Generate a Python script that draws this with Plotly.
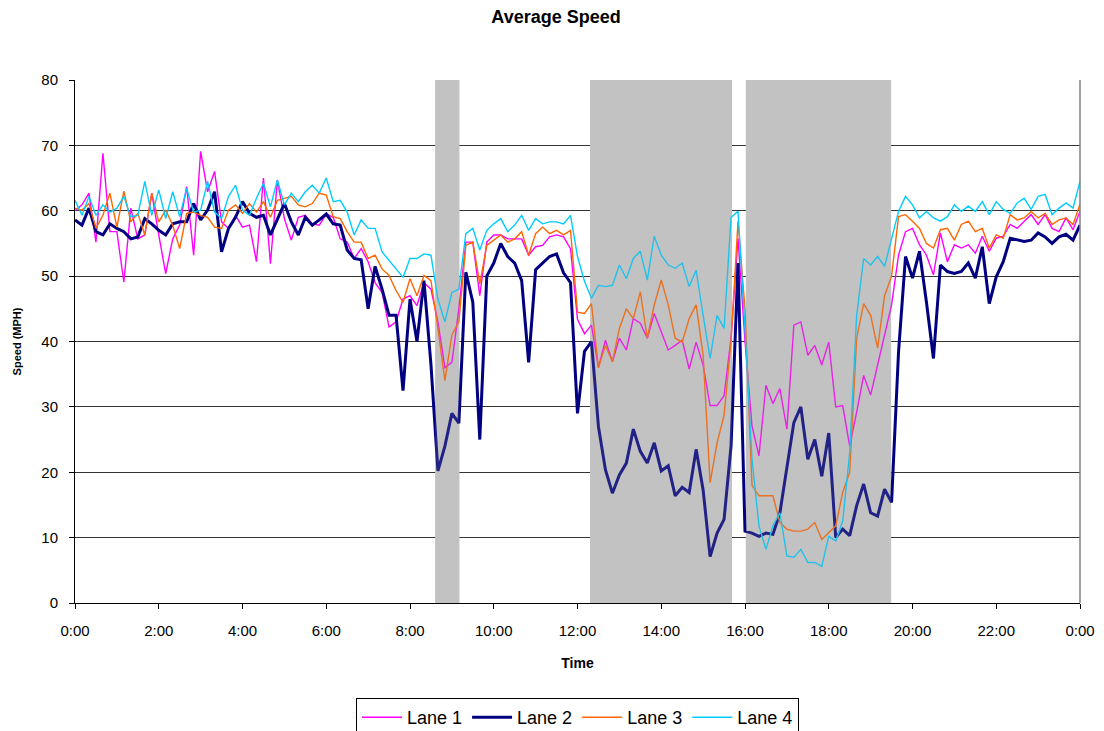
import numpy as np
import plotly.graph_objects as go

# 10-minute samples, 0:00 .. 24:00 (145 points)
time_hours = np.arange(145) / 6.0

lane1 = [
    60, 60.9, 62.7, 55.2, 68.8, 56.8,
    56.8, 49.1, 60.4, 55.7, 56.3, 62.7,
    56.3, 50.4, 55.7, 57.8, 63.7, 53.2,
    69.1, 62.9, 66, 58.3, 57.3, 59.3,
    57.5, 57.8, 52.2, 65, 51.9, 64.7,
    58.8, 55.5, 59, 59.3, 58, 57.8,
    59.5, 59, 55.7, 55.2, 52.7, 54.2,
    52.2, 49, 47.5, 42.2, 43, 46.5,
    47, 45.5, 49, 48, 43, 36,
    36.8, 45, 55.2, 55.2, 47, 55.2,
    56.3, 56.3, 55.7, 55.7, 55.7, 53.2,
    54.5, 54.7, 56, 56.3, 56, 54.2,
    43.4, 41.2, 42.5, 36, 40.2, 36.9,
    40.5, 38.7, 43.5, 42.8, 40.5, 44.3,
    41.5, 38.7, 39.4, 40.2, 35.8, 39.9,
    36.4, 30.2, 30.2, 31.7, 40.5, 55.8,
    40, 27.1, 22.5, 33.3, 30.5, 32.8,
    26.6, 42.5, 43, 37.9, 39.4, 36.4,
    39.9, 30, 30.2, 24, 29.2, 34.8,
    31.8, 36.4, 40.5, 45.6, 53.2, 56.8,
    57.3, 54.8, 53.2, 50.2, 56.6, 52.2,
    54.8, 54.3, 54.8, 53.5, 56.1, 53.8,
    55.8, 56.1, 57.9, 57.3, 58.4, 59.4,
    57.9, 59.4, 57.3, 56.8, 58.9, 57.1,
    59.9,
]

lane2 = [
    58.6, 57.8, 60.4, 56.8, 56.3, 58,
    57.3, 56.8, 55.7, 56, 58.8, 58,
    57, 56.3, 58, 58.3, 58.3, 61.1,
    58.6, 60.1, 62.9, 53.7, 57.3, 59,
    61.4, 59.6, 59, 59.3, 56.3, 58.8,
    61.1, 58.3, 56.3, 59, 57.8, 58.6,
    59.5, 58, 57.8, 54, 52.7, 52.5,
    45, 51.5, 48, 44, 44, 32.5,
    46.5, 40, 49.3, 36.5, 20.2, 24,
    29, 27.5, 50.6, 46, 25, 50,
    52, 55, 53, 52, 49.3, 36.8,
    51, 52, 53, 53.4, 50.5, 49,
    29, 38.5, 40, 27, 20.4, 16.8,
    19.6, 21.4, 26.6, 23.2, 21.4, 24.5,
    20.2, 21, 16.4, 17.7, 16.9, 23.5,
    17.3, 7.1, 10.7, 12.8, 24, 52,
    11, 10.7, 10.2, 10.7, 10.5, 13.8,
    21, 27.6, 30, 22, 25, 19.4,
    26, 10, 11.3, 10.3, 14.9, 18.2,
    13.8, 13.3, 17.4, 15.4, 38.4, 53,
    49.7, 53.8, 46, 37.4, 51.7, 50.7,
    50.4, 50.7, 52, 49.7, 54.5, 45.8,
    49.9, 52.2, 55.8, 55.5, 55.3, 55.5,
    56.6, 56, 55, 56, 56.4, 55.5,
    57.8,
]

lane3 = [
    60.4, 60.1, 61.1, 57.3, 59.3, 62.7,
    57.5, 63, 58.3, 59.6, 56.3, 62.7,
    58.3, 60.1, 57.8, 54.2, 59.6, 59.8,
    59.3, 59, 57.5, 57.3, 60.1, 60.9,
    59.6, 61.1, 59.8, 61.4, 59, 61.6,
    61.9, 62.2, 60.9, 60.6, 61.1, 62.7,
    62.4, 59.1, 58.8, 56.8, 55.2, 55.2,
    52.7, 53.2, 51.1, 50.1, 47.8, 46,
    49.6, 47, 50.1, 49.3, 42, 34,
    41, 43, 54.7, 55.2, 48.8, 54.7,
    55.5, 56.3, 55.2, 55.7, 56.8, 53.2,
    56.5, 57.5, 56.5, 57, 56.3, 57,
    44.5, 44.3, 45.8, 36, 39.4, 36.9,
    42, 45, 43.5, 47.6, 40.5, 45.6,
    49.4, 45.6, 40.5, 39.9, 43.5, 45.6,
    37.9, 18.4, 24.5, 28.7, 40, 58.4,
    45, 18, 16.4, 16.4, 16.4, 12.3,
    11.3, 11, 11, 11.3, 12.3, 9.7,
    10.8, 11.8, 16.9, 20, 40.5, 45.8,
    44, 39, 47, 50, 59.1, 59.4,
    58.4, 57.3, 55, 54.3, 57.1, 57.3,
    55.5, 57.9, 58.4, 56.8, 57.3, 54.3,
    56.3, 55.8, 59.4, 58.6, 58.9, 59.9,
    58.9, 59.6, 57.9, 58.6, 58.9, 57.9,
    61,
]

lane4 = [
    61.6, 59.3, 62.2, 59.3, 60.9, 59.8,
    60.4, 62.2, 59.1, 59.3, 64.5, 59.3,
    63.2, 58.8, 62.9, 59.1, 63.4, 59.8,
    60.1, 64.5, 59.8, 58.8, 62.2, 63.9,
    60.1, 59.3, 61.9, 64.2, 60.6, 64.7,
    60.9, 62.7, 61.4, 62.9, 63.9, 62.7,
    65, 61.4, 61.6, 59.8, 56.3, 58.6,
    57.3, 57.3, 53.7, 52.4, 51.1, 49.8,
    52.7, 52.7, 53.4, 53.2, 46.5, 43,
    47.5, 48, 56.5, 57.3, 54, 57,
    58, 58.8, 56.8, 57.8, 59.3, 57,
    58.8, 58, 58.3, 58.3, 58, 59.3,
    53, 49.2, 46.6, 48.6, 48.4, 48.6,
    51.7, 49.6, 52.7, 53.8, 49.4, 56.1,
    53.2, 51.7, 51.2, 52, 48.4, 50.9,
    44, 37.4, 44, 42, 59, 59.9,
    42, 22, 11.8, 8.2, 11.8, 13.8,
    7.2, 7, 8.2, 6.2, 6.2, 5.6,
    10.2, 9.5, 12.5, 23, 44, 52.7,
    51.7, 53, 51.5, 55.8, 59.9, 62.2,
    60.9, 58.9, 59.9, 58.9, 58.4, 59.1,
    60.9, 59.9, 60.7, 59.9, 61.4, 59.4,
    61.4, 60.2, 59.6, 61.2, 61.9, 60.2,
    62.2, 62.5, 59.4, 60.4, 61.2, 60.4,
    64.5,
]

lane_names = ["Lane 1", "Lane 2", "Lane 3", "Lane 4"]
lane_colors = ["#FF00FF", "#000080", "#FF6600", "#00CCFF"]
lane_widths = [1.4, 3, 1.4, 1.4]

# shaded incident periods (hours)
shade_start = [8.60, 12.30, 16.02]
shade_end = [9.18, 15.69, 19.49]

tick_hours = [0, 2, 4, 6, 8, 10, 12, 14, 16, 18, 20, 22, 24]
tick_labels = ["0:00", "2:00", "4:00", "6:00", "8:00", "10:00", "12:00",
               "14:00", "16:00", "18:00", "20:00", "22:00", "0:00"]

fig = go.Figure()
for name, ys, col, w in zip(lane_names, [lane1, lane2, lane3, lane4], lane_colors, lane_widths):
    fig.add_trace(go.Scatter(x=time_hours, y=ys, mode="lines", name=name,
                             line=dict(color=col, width=w)))

for s, e in zip(shade_start, shade_end):
    fig.add_shape(type="rect", xref="x", yref="y", x0=s, x1=e, y0=0, y1=80,
                  fillcolor="#CDCDCD", line=dict(width=0), layer="between")
    fig.add_shape(type="rect", xref="x", yref="y", x0=s, x1=e, y0=0, y1=80,
                  fillcolor="#9A9A9A", opacity=0.22, line=dict(width=0), layer="above")

W, H = 1096, 723  # page body has an 8px margin
font_family = "Liberation Sans, Arial, sans-serif"
fig.update_layout(
    width=W, height=H,
    margin=dict(l=67, r=24, t=72, b=128, autoexpand=False),
    paper_bgcolor="white", plot_bgcolor="white",
    font=dict(family=font_family, size=15, color="black"),
    title=dict(text="<b>Average Speed</b>", x=0.5, xanchor="center",
               y=1 - 9 / H, yanchor="middle", font=dict(size=18)),
    showlegend=True,
    legend=dict(orientation="h", x=0.5, xanchor="center", y=-95 / 523, yanchor="top",
                bordercolor="black", borderwidth=1, font=dict(size=18),
                itemwidth=40, tracegroupgap=0),
)
fig.update_xaxes(range=[0, 24], tickvals=tick_hours, ticktext=tick_labels,
                 showgrid=False, showline=True, linecolor="black", linewidth=1,
                 mirror=False, ticks="outside", ticklen=5, tickcolor="black",
                 tickfont=dict(size=15), zeroline=False, ticklabelstandoff=9,
                 automargin=False,
                 title=dict(text="<b>Time</b>", font=dict(size=14), standoff=20))
fig.update_yaxes(range=[0, 80], dtick=10, showgrid=True, gridcolor="#333333",
                 gridwidth=1, showline=True, linecolor="black", linewidth=1,
                 ticks="outside", ticklen=5, tickcolor="black",
                 tickfont=dict(size=15), zeroline=False, ticklabelstandoff=8,
                 automargin=False,
                 title=dict(text="<b>Speed (MPH)</b>", font=dict(size=11), standoff=17))
# right-hand plot border
fig.add_shape(type="line", xref="paper", yref="paper", x0=1, x1=1, y0=0, y1=1,
              line=dict(color="#808080", width=1.5))

fig.write_html("out.html")
